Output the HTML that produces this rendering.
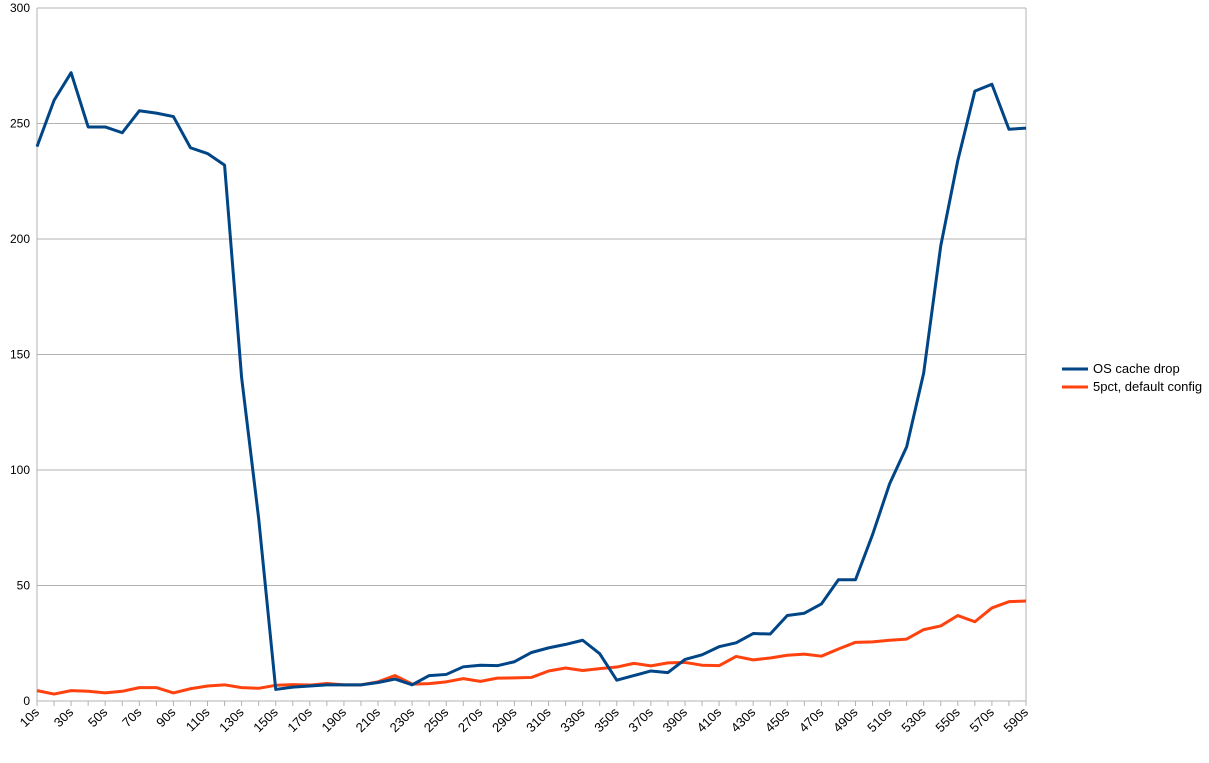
<!DOCTYPE html>
<html><head><meta charset="utf-8"><style>
body{margin:0;background:#fff;font-family:"Liberation Sans",sans-serif}
svg text{font-family:"Liberation Sans",sans-serif;font-size:12px;fill:#000}
svg text.big{font-size:13px}
</style></head><body>
<svg id="chart" width="1209" height="758" xmlns="http://www.w3.org/2000/svg"></svg>
<script>
const categories=[];for(let s=10;s<=590;s+=10)categories.push(s+"s");
const blueValues=[240,260,272,248.5,248.5,246,255.5,254.5,253,239.5,237,232,140,79,5,6,6.5,7,7,7,8,9.5,7,11,11.5,14.8,15.5,15.3,17,21,23,24.5,26.3,20.5,9,11,13,12.3,18,20,23.5,25.2,29.2,29,37,38,42,52.5,52.5,72,94,110,142,197,234,264,267,247.5,248];
const orangeValues=[4.5,3,4.5,4.2,3.5,4.2,5.8,5.8,3.5,5.3,6.5,7,5.8,5.5,6.8,7.1,6.9,7.6,7,7,8.3,11,7.3,7.5,8.3,9.7,8.5,9.9,10,10.2,13,14.3,13.2,14,14.7,16.3,15.2,16.5,16.7,15.5,15.3,19.3,17.8,18.6,19.8,20.3,19.4,22.5,25.4,25.6,26.3,26.8,30.9,32.5,37,34.3,40.3,43,43.3];
const yTicks=[0,50,100,150,200,250,300];
const seriesNames=["OS cache drop","5pct, default config"];
const svg=document.getElementById('chart');const NS="http://www.w3.org/2000/svg";
const X0=37,X1=1026,Y0=701,Y1=8;
const xs=i=>X0+i*(X1-X0)/(categories.length-1);
const ys=v=>Y0-v*(Y0-Y1)/300;
function mk(t,a){const e=document.createElementNS(NS,t);for(const k in a)e.setAttribute(k,a[k]);svg.appendChild(e);return e;}
yTicks.forEach(v=>{
 const g=mk('line',{x1:X0,x2:X1,y1:ys(v),y2:ys(v),stroke:'#b3b3b3','stroke-width':1});
 
 
 const t=mk('text',{x:30,y:ys(v)+4,'text-anchor':'end'});t.textContent=v;
 
 
});
const ya=mk('line',{x1:X0,x2:X0,y1:Y1,y2:Y0+5,stroke:'#b3b3b3'});


const ra=mk('line',{x1:X1,x2:X1,y1:Y1,y2:Y0+5,stroke:'#b3b3b3'});


categories.forEach((c,i)=>{
 const tk=mk('line',{x1:xs(i),x2:xs(i),y1:Y0,y2:Y0+5,stroke:'#b3b3b3'});
 
 
 if(i%2===0){const x=xs(i)+3,y=Y0+12;const t=mk('text',{x:x,y:y,'text-anchor':'end','class':'big',transform:`rotate(-45 ${x} ${y})`});t.textContent=c;
 
 }
});
function line(vals,col,name){const p=mk('polyline',{points:vals.map((v,i)=>xs(i)+','+ys(v)).join(' '),fill:'none',stroke:col,'stroke-width':3,'stroke-linejoin':'round'});
 
 }
line(orangeValues,'#ff420e','series-5pct-default-config');
line(blueValues,'#004586','series-os-cache-drop');
[['#004586',369],['#ff420e',387]].forEach((d,k)=>{
 const l=mk('line',{x1:1062,x2:1088,y1:d[1],y2:d[1],stroke:d[0],'stroke-width':3});
 
 
 const t=mk('text',{x:1093,y:d[1]+4,'class':'big'});t.textContent=seriesNames[k];
 
 
});
</script>
</body></html>
